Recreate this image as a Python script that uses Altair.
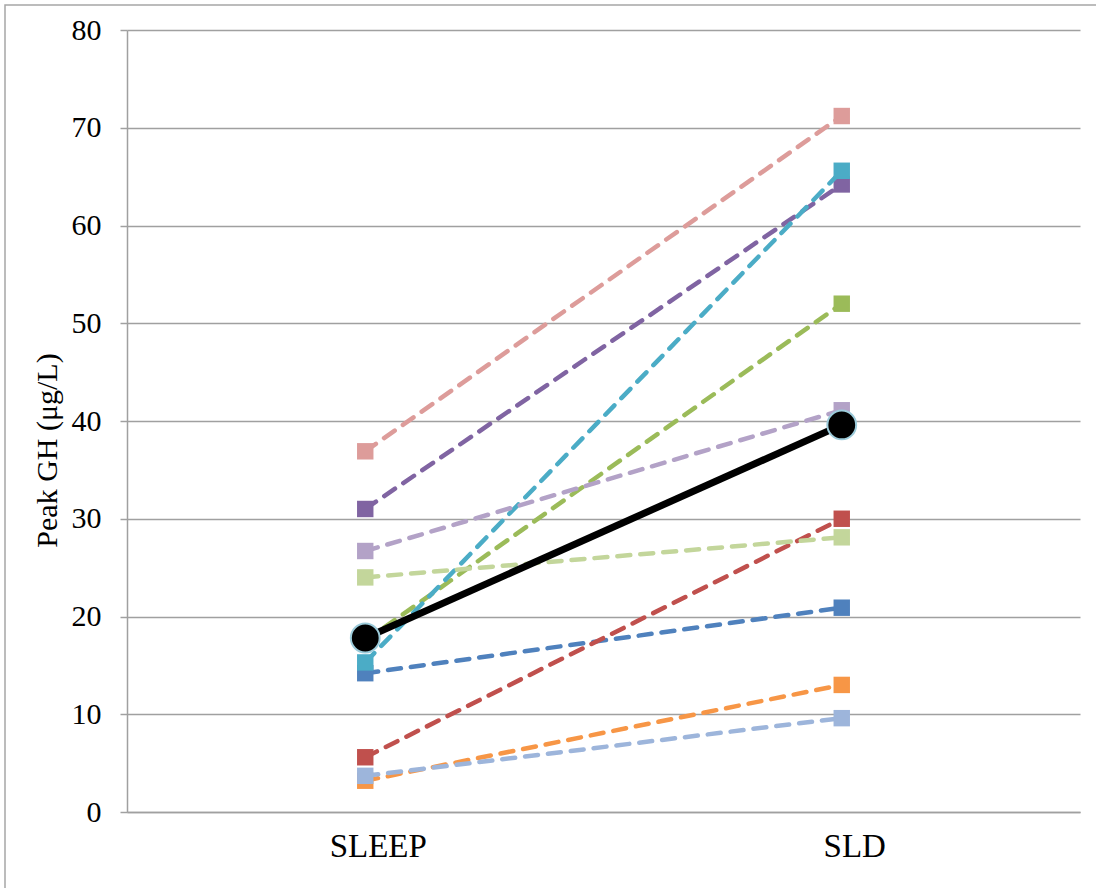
import altair as alt
import pandas as pd

categories = ["SLEEP", "SLD"]
series_names = ["S1", "S2", "S3", "S4", "S5", "S6", "S7", "S8", "S9", "S10"]
sleep_vals = [14.2, 5.6, 17.5, 31.0, 15.3, 3.2, 3.7, 36.9, 24.0, 26.7]
sld_vals = [20.9, 30.0, 52.0, 64.2, 65.6, 13.0, 9.6, 71.2, 28.1, 41.1]
series_colors = ["#4F81BD", "#C0504D", "#9BBB59", "#8064A2", "#4BACC6",
                 "#F79646", "#9DB5DB", "#DD9C9A", "#C3D69B", "#B3A2C7"]
mean_vals = [17.8, 39.6]

W, H = 953, 782
FONT = "Liberation Serif"

x_enc = alt.X("cat:N", sort=categories,
              scale=alt.Scale(type="point", padding=0.5, domain=categories),
              axis=alt.Axis(title=None, ticks=False, labels=False,
                            domainColor="#A0A0A0", domainWidth=1.5, grid=False))
y_enc = alt.Y("val:Q", scale=alt.Scale(domain=[0, 80], nice=False, zero=True),
              axis=alt.Axis(values=list(range(0, 81, 10)), title="Peak GH (μg/L)",
                            titleFont=FONT, titleFontSize=30, titleFontWeight="normal",
                            titleColor="black", titleAngle=-90, titleX=-80, titleY=420,
                            titleAlign="center", titleBaseline="middle",
                            labelFont=FONT, labelFontSize=30, labelColor="black",
                            labelPadding=19, tickSize=7, tickColor="#A0A0A0", tickWidth=1.5,
                            domainColor="#A0A0A0", domainWidth=1.5,
                            grid=True, gridColor="#A0A0A0", gridWidth=1.5))

layers = []
frame = alt.Chart(pd.DataFrame({"a": [0]})).mark_rect(
    fill=None, stroke="#A6A6A6", strokeWidth=1.5, clip=False
).encode(x=alt.value(-122), x2=alt.value(W + 40), y=alt.value(-25), y2=alt.value(H + 90))
layers.append(frame)

for i, name in enumerate(series_names):
    df = pd.DataFrame({"cat": categories, "val": [sleep_vals[i], sld_vals[i]], "s": name})
    base = alt.Chart(df).encode(x=x_enc, y=y_enc)
    layers.append(base.mark_line(color=series_colors[i], strokeWidth=4.5,
                                 strokeDash=[13, 10], strokeCap="round"))
    layers.append(base.mark_point(shape="square", filled=True, size=270, opacity=1,
                                  color=series_colors[i]))

mdf = pd.DataFrame({"cat": categories, "val": mean_vals})
mbase = alt.Chart(mdf).encode(x=x_enc, y=y_enc)
layers.append(mbase.mark_line(color="black", strokeWidth=7))
layers.append(mbase.mark_point(shape="circle", filled=True, size=830, fill="black",
                               stroke="#9CCBDA", strokeWidth=2, opacity=1))

labels_df = pd.DataFrame({"cat": categories})
layers.append(alt.Chart(labels_df).mark_text(
    font=FONT, fontSize=33, color="black", align="center", baseline="middle",
    dx=13, clip=False
).encode(x=alt.X("cat:N", sort=categories,
                 scale=alt.Scale(type="point", padding=0.5, domain=categories)),
         y=alt.value(H + 35), text="cat:N"))

chart = alt.layer(*layers).properties(
    width=W, height=H,
    autosize=alt.AutoSizeParams(type="none"),
    padding={"left": 127, "top": 30, "right": 16, "bottom": 76},
    background="white"
).configure_view(stroke=None)

chart.save("out.html", embed_options={"renderer": "svg", "actions": False})
